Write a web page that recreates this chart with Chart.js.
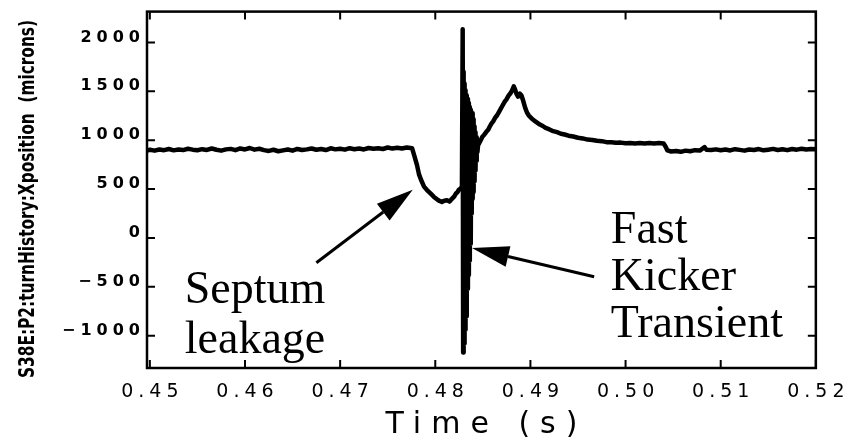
<!DOCTYPE html>
<html lang="en">
<head>
<meta charset="UTF-8">
<title>S38E:P2 turn history</title>
<script src="https://cdn.jsdelivr.net/npm/chart.js"></script>
<style>
  body { margin: 0; background: #fff; }
  #wrap { width: 850px; height: 444px; }
</style>
</head>
<body>
<div id="wrap"><canvas id="bpmChart" width="850" height="444"></canvas></div>
<script>
// position trace, split in pieces
const preTime = [0.4497, 0.4500, 0.4505, 0.4510, 0.4515, 0.4520, 0.4525, 0.4530, 0.4535, 0.4540,
  0.4545, 0.4550, 0.4555, 0.4560, 0.4565, 0.4570, 0.4575, 0.4580, 0.4585, 0.4590,
  0.4595, 0.4600, 0.4605, 0.4610, 0.4615, 0.4620, 0.4625, 0.4630, 0.4635, 0.4640,
  0.4645, 0.4650, 0.4655, 0.4660, 0.4665, 0.4670, 0.4675, 0.4680, 0.4685, 0.4690,
  0.4695, 0.4700, 0.4705, 0.4710, 0.4715, 0.4720, 0.4725, 0.4730, 0.4735, 0.4740,
  0.4745, 0.4750, 0.4755, 0.4760, 0.4765, 0.4770];
const prePos = [895, 902, 893, 905, 898, 910, 896, 904, 899, 912,
  903, 897, 908, 900, 915, 902, 893, 906, 911, 898,
  915, 905, 920, 903, 912, 898, 890, 902, 887, 896,
  905, 893, 910, 899, 906, 915, 902, 910, 899, 917,
  906, 912, 903, 918, 908, 915, 905, 920, 912, 918,
  910, 925, 914, 922, 915, 925];

// septum leakage dip
const dipTime = [0.47756, 0.47777, 0.47808, 0.47829, 0.47850, 0.47882, 0.47913, 0.47955, 0.47986, 0.48018,
  0.48045, 0.48070, 0.48095, 0.48123, 0.48150, 0.48175, 0.48200, 0.48217, 0.48235, 0.48248, 0.48265, 0.48280];
const dipPos = [918, 850, 745, 650, 595, 525, 490, 450, 420, 395,
  378, 368, 380, 385, 372, 400, 425, 455, 470, 495, 505, 525];

// fast kicker ringing
const kickTime = [0.48288, 0.48293, 0.48298, 0.48303, 0.48308, 0.48313, 0.48318, 0.48323, 0.48328, 0.48333,
  0.48338, 0.48343, 0.48348, 0.48353, 0.48358, 0.48363, 0.48368, 0.48373, 0.48378, 0.48383,
  0.48388, 0.48393, 0.48398, 0.48403, 0.48408, 0.48413, 0.48418, 0.48423, 0.48428, 0.48433,
  0.48438, 0.48443];
const kickPos = [2135, -1172, 1700, -1080, 1580, -940, 1510, -800, 1460, -660,
  1420, -520, 1380, -380, 1340, -230, 1310, -60, 1285, 250,
  1275, 400, 1215, 470, 1140, 580, 1080, 690, 1030, 790,
  990, 880];

// recovery bump and slow decay
const bumpTime = [0.48450, 0.48465, 0.48480, 0.48495, 0.48510, 0.48525, 0.48540, 0.48555, 0.48570, 0.48590,
  0.48610, 0.48630, 0.48650, 0.48670, 0.48690, 0.48710, 0.48730, 0.48750, 0.48770, 0.48790,
  0.48805, 0.48825, 0.48840, 0.48855, 0.48870, 0.48890, 0.48905, 0.48925, 0.48945, 0.48965,
  0.48985, 0.49010, 0.49040, 0.49070, 0.49100, 0.49130, 0.49160, 0.49200, 0.49240, 0.49280,
  0.49320, 0.49360, 0.49400, 0.49450, 0.49500, 0.49550, 0.49600, 0.49650, 0.49700, 0.49750,
  0.49800, 0.49850, 0.49900, 0.49950, 0.50000, 0.50050, 0.50100, 0.50150, 0.50200, 0.50250,
  0.50300, 0.50350, 0.50400, 0.50420];
const bumpPos = [950, 975, 1005, 1035, 1050, 1070, 1090, 1105, 1135, 1170,
  1195, 1230, 1255, 1290, 1325, 1360, 1395, 1420, 1455, 1480,
  1505, 1550, 1515, 1470, 1445, 1475, 1460, 1400, 1330, 1280,
  1250, 1225, 1200, 1180, 1160, 1145, 1125, 1110, 1092, 1082,
  1066, 1058, 1046, 1038, 1025, 1018, 1006, 1002, 994, 990,
  980, 978, 973, 975, 968, 972, 966, 971, 965, 970,
  967, 972, 966, 935];

const tailTime = [0.50440, 0.50480, 0.50530, 0.50580, 0.50630, 0.50680, 0.50730, 0.50780, 0.50830, 0.50850,
  0.50900, 0.50950, 0.51000, 0.51050, 0.51100, 0.51150, 0.51200, 0.51250, 0.51300, 0.51350,
  0.51400, 0.51450, 0.51500, 0.51550, 0.51600, 0.51650, 0.51700, 0.51750, 0.51800, 0.51850,
  0.51900, 0.51950, 0.52000];
const tailPos = [895, 884, 890, 881, 893, 887, 898, 894, 928, 902,
  899, 906, 897, 904, 895, 908, 901, 893, 905, 899,
  909, 896, 903, 911, 900, 907, 898, 910, 903, 912,
  904, 909, 906];

const xTicks = [0.45, 0.46, 0.47, 0.48, 0.49, 0.50, 0.51, 0.52];
const xTickLabels = ['0.45', '0.46', '0.47', '0.48', '0.49', '0.50', '0.51', '0.52'];
const yTicks = [-1000, -500, 0, 500, 1000, 1500, 2000];
const yTickLabels = ['\u22121000', '\u2212500', '0', '500', '1000', '1500', '2000'];

// annotation text and arrows, in axis units
const noteLines = [
  { text: 'Septum', t: 0.45367, v: -666 },
  { text: 'leakage', t: 0.45367, v: -1176 },
  { text: 'Fast', t: 0.49845, v: -48 },
  { text: 'Kicker', t: 0.49845, v: -530 },
  { text: 'Transient', t: 0.49845, v: -1011 }
];
const noteArrows = [
  { from: [0.46750, -254], to: [0.47763, 494] },
  { from: [0.49670, -396], to: [0.48386, -104] }
];

function toPoints(ts, vs) {
  return ts.map((t, i) => ({ x: t, y: vs[i] }));
}

const trace = [].concat(
  toPoints(preTime, prePos),
  toPoints(dipTime, dipPos),
  toPoints(kickTime, kickPos),
  toPoints(bumpTime, bumpPos),
  toPoints(tailTime, tailPos)
);

function drawArrow(ctx, x0, y0, x1, y1) {
  const ang = Math.atan2(y1 - y0, x1 - x0);
  const len = 37, half = 10.5;
  const bx = x1 - len * Math.cos(ang), by = y1 - len * Math.sin(ang);
  ctx.beginPath();
  ctx.moveTo(x0, y0);
  ctx.lineTo(bx, by);
  ctx.stroke();
  ctx.beginPath();
  ctx.moveTo(x1, y1);
  ctx.lineTo(bx + half * Math.sin(ang), by - half * Math.cos(ang));
  ctx.lineTo(bx - half * Math.sin(ang), by + half * Math.cos(ang));
  ctx.closePath();
  ctx.fill();
}

const frameAndNotes = {
  id: 'frameAndNotes',
  beforeDraw(chart) {
    // the tick font of the original is very wide
    chart.ctx.letterSpacing = '5px';
  },
  afterDraw(chart) {
    const { ctx, chartArea: a } = chart;
    const xs = chart.scales.x, ys = chart.scales.y;
    ctx.save();
    ctx.letterSpacing = '0px';
    ctx.strokeStyle = '#000';
    ctx.fillStyle = '#000';

    // box and inward ticks on every side
    ctx.lineWidth = 2.5;
    ctx.strokeRect(a.left, a.top, a.right - a.left, a.bottom - a.top);
    ctx.lineWidth = 2;
    ctx.beginPath();
    xTicks.forEach(v => {
      const px = xs.getPixelForValue(v);
      ctx.moveTo(px, a.bottom); ctx.lineTo(px, a.bottom - 8);
      ctx.moveTo(px, a.top); ctx.lineTo(px, a.top + 8);
    });
    yTicks.forEach(v => {
      const py = ys.getPixelForValue(v);
      ctx.moveTo(a.left, py); ctx.lineTo(a.left + 8, py);
      ctx.moveTo(a.right, py); ctx.lineTo(a.right - 8, py);
    });
    ctx.stroke();

    // y title, squeezed to the height of the plot
    ctx.save();
    ctx.translate(33.5, 199);
    ctx.rotate(-Math.PI / 2);
    ctx.font = 'bold 22px "Liberation Sans Narrow", "DejaVu Sans Condensed", "Liberation Sans", sans-serif';
    const yTitle = 'S38E:P2:turnHistory:Xposition  (microns)';
    const w = ctx.measureText(yTitle).width;
    ctx.scale(358 / w, 1);
    ctx.textAlign = 'center';
    ctx.textBaseline = 'alphabetic';
    ctx.fillText(yTitle, 0, 0);
    ctx.restore();

    // x title, wide spaced
    ctx.save();
    ctx.letterSpacing = '10px';
    ctx.font = '30px "DejaVu Sans", sans-serif';
    ctx.textAlign = 'center';
    ctx.textBaseline = 'alphabetic';
    ctx.fillText('Time (s)', (a.left + a.right) / 2 + 5, 433);
    ctx.restore();

    // annotations
    ctx.font = '46px "Liberation Serif", "Times New Roman", serif';
    ctx.textAlign = 'left';
    ctx.textBaseline = 'alphabetic';
    noteLines.forEach(n => {
      ctx.fillText(n.text, xs.getPixelForValue(n.t), ys.getPixelForValue(n.v));
    });
    ctx.lineWidth = 3;
    noteArrows.forEach(ar => {
      drawArrow(ctx,
        xs.getPixelForValue(ar.from[0]), ys.getPixelForValue(ar.from[1]),
        xs.getPixelForValue(ar.to[0]), ys.getPixelForValue(ar.to[1]));
    });
    ctx.restore();
  }
};

const ctx = document.getElementById('bpmChart').getContext('2d');
new Chart(ctx, {
  type: 'line',
  data: {
    datasets: [{
      data: trace,
      borderColor: '#000',
      borderWidth: 4.5,
      borderJoinStyle: 'round',
      pointRadius: 0,
      tension: 0,
      fill: false
    }]
  },
  options: {
    responsive: false,
    animation: false,
    devicePixelRatio: 1,
    layout: { padding: { top: 9, right: 33, bottom: 0, left: 0 } },
    plugins: {
      legend: { display: false },
      tooltip: { enabled: false }
    },
    scales: {
      x: {
        type: 'linear',
        min: 0.4497,
        max: 0.52,
        bounds: 'data',
        afterBuildTicks: s => { s.ticks = xTicks.map(v => ({ value: v })); },
        afterFit: s => { s.height = 76; },
        grid: { display: false, drawTicks: false },
        border: { display: false },
        ticks: {
          autoSkip: false,
          maxRotation: 0,
          padding: 13,
          labelOffset: 2.5,
          color: '#000',
          font: { family: '"DejaVu Sans", sans-serif', size: 19 },
          callback: (v, i) => xTickLabels[i]
        }
      },
      y: {
        min: -1330,
        max: 2315,
        bounds: 'data',
        afterBuildTicks: s => { s.ticks = yTicks.map(v => ({ value: v })); },
        afterFit: s => { s.width = 147; },
        grid: { display: false, drawTicks: false },
        border: { display: false },
        ticks: {
          autoSkip: false,
          padding: 2,
          labelOffset: -5,
          color: '#000',
          font: { family: '"DejaVu Sans", sans-serif', size: 16, weight: 'bold' },
          callback: (v, i) => yTickLabels[i]
        }
      }
    }
  },
  plugins: [frameAndNotes]
});
</script>
</body>
</html>
